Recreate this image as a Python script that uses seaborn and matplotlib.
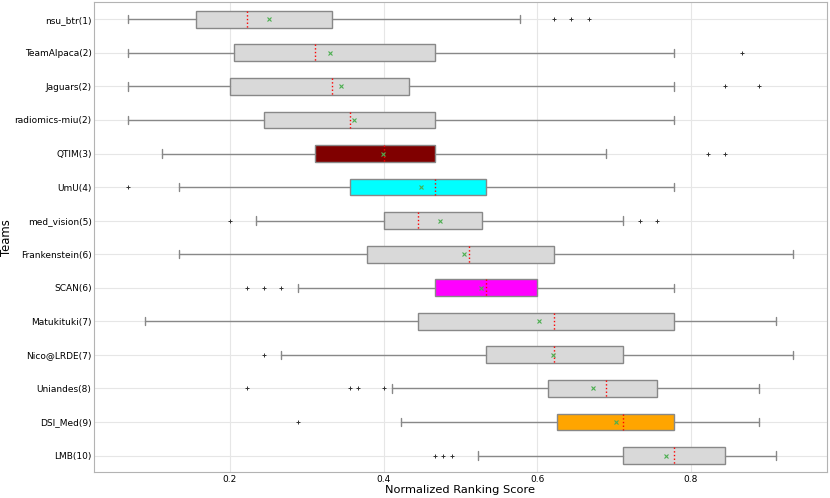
import matplotlib
matplotlib.use("Agg")
import matplotlib.pyplot as plt
import seaborn as sns

TEAMS = ['nsu_btr(1)', 'TeamAlpaca(2)', 'Jaguars(2)', 'radiomics-miu(2)', 'QTIM(3)',
         'UmU(4)', 'med_vision(5)', 'Frankenstein(6)', 'SCAN(6)', 'Matukituki(7)',
         'Nico@LRDE(7)', 'Uniandes(8)', 'DSI_Med(9)', 'LMB(10)']
WHISLO = [0.0667, 0.0667, 0.0667, 0.0667, 0.1111, 0.1333, 0.2333, 0.1333, 0.2889, 0.0889,
          0.2667, 0.4111, 0.4222, 0.5222]
Q1 = [0.1556, 0.2056, 0.2000, 0.2444, 0.3111, 0.3556, 0.4000, 0.3778, 0.4667, 0.4444,
      0.5333, 0.6139, 0.6250, 0.7111]
MEDIAN = [0.2222, 0.3111, 0.3333, 0.3556, 0.4000, 0.4667, 0.4444, 0.5111, 0.5333, 0.6222,
          0.6222, 0.6889, 0.7111, 0.7778]
Q3 = [0.3333, 0.4667, 0.4333, 0.4667, 0.4667, 0.5333, 0.5278, 0.6222, 0.6000, 0.7778,
      0.7111, 0.7556, 0.7778, 0.8444]
WHISHI = [0.5778, 0.7778, 0.7778, 0.7778, 0.6889, 0.7778, 0.7111, 0.9333, 0.7778, 0.9111,
          0.9333, 0.8889, 0.8889, 0.9111]
MEANS = [0.2508, 0.3306, 0.3440, 0.3618, 0.3990, 0.4480, 0.4738, 0.5045, 0.5262, 0.6026,
         0.6203, 0.6729, 0.7023, 0.7670]
FLIERS = [[0.6222, 0.6444, 0.6667], [0.8667], [0.8444, 0.8889], [], [0.8222, 0.8444],
          [0.0667], [0.2000, 0.7333, 0.7556], [], [0.2222, 0.2444, 0.2667], [],
          [0.2444], [0.2222, 0.3556, 0.3667, 0.4000], [0.2889], [0.4667, 0.4778, 0.4889]]
BOX_COLORS = ['#d9d9d9', '#d9d9d9', '#d9d9d9', '#d9d9d9', '#800000', '#00ffff', '#d9d9d9',
              '#d9d9d9', '#ff00ff', '#d9d9d9', '#d9d9d9', '#d9d9d9', '#ffa500', '#d9d9d9']

sns.set_style("whitegrid", {"grid.color": "0.9", "axes.edgecolor": "0.7",
                            "text.color": "black", "axes.labelcolor": "black",
                            "xtick.color": "black", "ytick.color": "black"})

stats = []
for i, team in enumerate(TEAMS):
    stats.append(dict(label=team, whislo=WHISLO[i], q1=Q1[i], med=MEDIAN[i], q3=Q3[i],
                      whishi=WHISHI[i], mean=MEANS[i], fliers=FLIERS[i]))

fig, ax = plt.subplots(figsize=(8.3, 4.98), dpi=100)
fig.subplots_adjust(left=0.1136, right=0.996, bottom=0.0516, top=0.995)

bp = ax.bxp(stats, positions=range(len(TEAMS)), widths=0.5, orientation='horizontal',
            patch_artist=True, showmeans=True,
            boxprops=dict(edgecolor='#888888', linewidth=1.0),
            whiskerprops=dict(color='#888888', linewidth=1.0),
            capprops=dict(color='#888888', linewidth=1.0),
            medianprops=dict(color='red', linestyle=':', linewidth=1.0),
            meanprops=dict(marker='x', markeredgecolor='#4caf50', markersize=3.5,
                           markeredgewidth=0.8),
            flierprops=dict(marker='+', markeredgecolor='#333333', markersize=3,
                            markeredgewidth=0.7))
for patch, c in zip(bp['boxes'], BOX_COLORS):
    patch.set_facecolor(c)

ax.set_ylim(len(TEAMS) - 0.5, -0.5)
ax.set_yticks(range(len(TEAMS)))
ax.set_yticklabels(TEAMS)
ax.set_xticks([0.2, 0.4, 0.6, 0.8])
ax.set_xticklabels(['0.2', '0.4', '0.6', '0.8'])
ax.tick_params(labelsize=6.5, length=0, pad=2, colors='black')
ax.set_xlabel('Normalized Ranking Score', fontsize=8.2, labelpad=1, color='black')
ax.set_ylabel('Teams', fontsize=8.4, color='black')
ax.yaxis.set_label_coords(-0.111, 0.5)
ax.grid(True, axis='both', color='0.9', linewidth=0.8)
ax.set_axisbelow(True)

fig.savefig("out.png", dpi=100)
